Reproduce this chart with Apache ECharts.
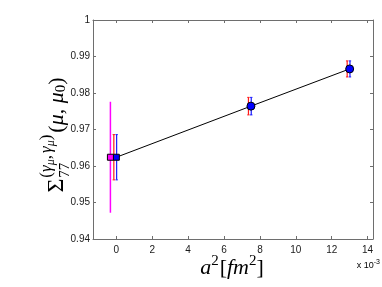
<!DOCTYPE html>
<html><head><meta charset="utf-8">
<script src="https://cdn.jsdelivr.net/npm/echarts@6/dist/echarts.min.js"></script>
<style>html,body{margin:0;padding:0;background:#fff}#c{width:382px;height:287px}</style>
</head><body><div id="c"></div>
<script>
// ---- data (a^2 in units of 1e-3 fm^2) ----
const xTickValues = [0, 2, 4, 6, 8, 10, 12, 14];
const latticeA2 = [0, 7.5, 13];
const sigmaValues = [0.9624, 0.9764, 0.9866];
const errRed = [0.0062, 0.0024, 0.0022];
const errBlue = [0.0062, 0.0024, 0.0022];
const extrapA2 = [-0.33];
const extrapSigma = [0.9624];
const extrapErr = [0.0152];

const measureCtx = document.createElement('canvas').getContext('2d');
function tw(t, font) { measureCtx.font = font; return measureCtx.measureText(t).width; }
function layout(pieces, x0) {
  let x = x0; const out = [];
  for (const p of pieces) {
    out.push({ type: 'text', x: x, y: p.dy || 0, silent: true,
      style: { text: p.t, font: p.font, fill: '#000', textAlign: 'left', textVerticalAlign: 'middle' } });
    x += tw(p.t, p.font) + (p.gap || 0);
  }
  return { items: out, end: x };
}

const SER = "'Liberation Serif', serif";
// y label
const sig = layout([{ t: 'Σ', font: `24px ${SER}`, dy: 0 }], 0);
const sub77 = layout([{ t: '77', font: `15px ${SER}`, dy: 8 }], sig.end + 1);
const supPart = layout([
  { t: '(', font: `17px ${SER}`, dy: -10 },
  { t: 'γ', font: `italic 17px ${SER}`, dy: -10 },
  { t: 'μ', font: `italic 12px ${SER}`, dy: -6 },
  { t: ',', font: `17px ${SER}`, dy: -10, gap: 2 },
  { t: 'γ', font: `italic 17px ${SER}`, dy: -10 },
  { t: 'μ', font: `italic 12px ${SER}`, dy: -6 },
  { t: ')', font: `17px ${SER}`, dy: -10 }
], sig.end + 1);
const mainPart = layout([
  { t: '(', font: `22px ${SER}`, dy: 0 },
  { t: 'μ', font: `italic 22px ${SER}`, dy: 0 },
  { t: ', ', font: `22px ${SER}`, dy: 0 },
  { t: 'μ', font: `italic 22px ${SER}`, dy: 0 },
  { t: '0', font: `15px ${SER}`, dy: 4 },
  { t: ')', font: `22px ${SER}`, dy: 0 }
], Math.max(sub77.end, supPart.end) + 2);
const yLabelLen = mainPart.end;

// x label
const xl = layout([
  { t: 'a', font: `italic 22px ${SER}` },
  { t: '2', font: `15px ${SER}`, dy: -7, gap: 1 },
  { t: '[', font: `22px ${SER}` },
  { t: 'fm', font: `italic 22px ${SER}` },
  { t: '2', font: `15px ${SER}`, dy: -7 },
  { t: ']', font: `22px ${SER}` }
], 0);
const sc = layout([
  { t: 'x 10', font: "9px 'Liberation Sans'" },
  { t: '-3', font: "7px 'Liberation Sans'", dy: -4 }
], 0);

function errSeries(xs, ys, es, dx, color, width, caps) {
  return {
    type: 'custom', silent: true, z: 3,
    data: xs.map((x, i) => [x, ys[i], es[i]]),
    encode: { x: 0, y: 1 },
    renderItem: (params, api) => {
      const x = api.value(0), y = api.value(1), e = api.value(2);
      const top = api.coord([x, y + e]), bot = api.coord([x, y - e]);
      const px = top[0] + dx;
      const children = [
        { type: 'line', shape: { x1: px, y1: top[1], x2: px, y2: bot[1] }, style: { stroke: color, lineWidth: width } }
      ];
      if (caps) {
        children.push(
          { type: 'line', shape: { x1: px - 1.2, y1: top[1], x2: px + 1.2, y2: top[1] }, style: { stroke: color, lineWidth: 1 } },
          { type: 'line', shape: { x1: px - 1.2, y1: bot[1], x2: px + 1.2, y2: bot[1] }, style: { stroke: color, lineWidth: 1 } });
      }
      return { type: 'group', children };
    }
  };
}

const axisCol = '#6e6e6e';
const labelStyle = { color: '#1a1a1a', fontSize: 10, fontFamily: "'Liberation Sans', Arial, sans-serif" };
const chart = echarts.init(document.getElementById('c'), null, { renderer: 'canvas' });
chart.setOption({
  animation: false,
  backgroundColor: '#fff',
  grid: { left: 93, right: 9, top: 20, bottom: 48, containLabel: false },
  xAxis: [
    { type: 'value', min: -1.3, max: 14.3, position: 'bottom',
      axisLine: { show: true, onZero: false, lineStyle: { color: axisCol } },
      axisTick: { show: true, inside: true, length: 3, customValues: xTickValues, lineStyle: { color: axisCol } },
      axisLabel: Object.assign({ margin: 6, customValues: xTickValues, formatter: v => String(v) }, labelStyle),
      splitLine: { show: false } },
    { type: 'value', min: -1.3, max: 14.3, position: 'top',
      axisLine: { show: true, onZero: false, lineStyle: { color: axisCol } },
      axisTick: { show: true, inside: true, length: 3, customValues: xTickValues, lineStyle: { color: axisCol } },
      axisLabel: { show: false }, splitLine: { show: false } }
  ],
  yAxis: [
    { type: 'value', min: 0.94, max: 1, interval: 0.01, position: 'left',
      axisLine: { show: true, onZero: false, lineStyle: { color: axisCol } },
      axisTick: { show: true, inside: true, length: 3, lineStyle: { color: axisCol } },
      axisLabel: Object.assign({ margin: 3, formatter: v => String(+v.toFixed(2)) }, labelStyle),
      splitLine: { show: false } },
    { type: 'value', min: 0.94, max: 1, interval: 0.01, position: 'right',
      axisLine: { show: true, onZero: false, lineStyle: { color: axisCol } },
      axisTick: { show: true, inside: true, length: 3, lineStyle: { color: axisCol } },
      axisLabel: { show: false }, splitLine: { show: false } }
  ],
  series: [
    { type: 'line', z: 2, silent: true, symbol: 'none',
      data: latticeA2.map((x, i) => [x, sigmaValues[i]]),
      lineStyle: { color: '#000', width: 1 } },
    errSeries(extrapA2, extrapSigma, extrapErr, 0, '#ff00ff', 1.5, false),
    errSeries(latticeA2, sigmaValues, errRed, -2.5, '#ff1a1a', 1.2, true),
    errSeries(latticeA2, sigmaValues, errBlue, 0.3, '#1a1aff', 1.2, true),
    { type: 'scatter', z: 5, silent: true,
      data: latticeA2.map((x, i) => ({ value: [x, sigmaValues[i]], symbol: i === 0 ? 'rect' : 'circle', symbolSize: i === 0 ? 6 : 8 })),
      itemStyle: { color: '#0000ff', borderColor: '#000', borderWidth: 1, opacity: 1 } },
    { type: 'scatter', z: 5, silent: true, symbol: 'rect', symbolSize: 6,
      data: extrapA2.map((x, i) => [x, extrapSigma[i]]),
      itemStyle: { color: '#ff00ff', borderColor: '#000', borderWidth: 1, opacity: 1 } }
  ],
  graphic: [
    { type: 'group', x: 57, y: 135 + yLabelLen / 2, rotation: Math.PI / 2, silent: true,
      children: [].concat(sig.items, sub77.items, supPart.items, mainPart.items) },
    { type: 'group', x: 232 - xl.end / 2, y: 268, silent: true, children: xl.items },
    { type: 'group', x: 380 - sc.end, y: 266, silent: true, children: sc.items }
  ]
});
</script>
</body></html>
